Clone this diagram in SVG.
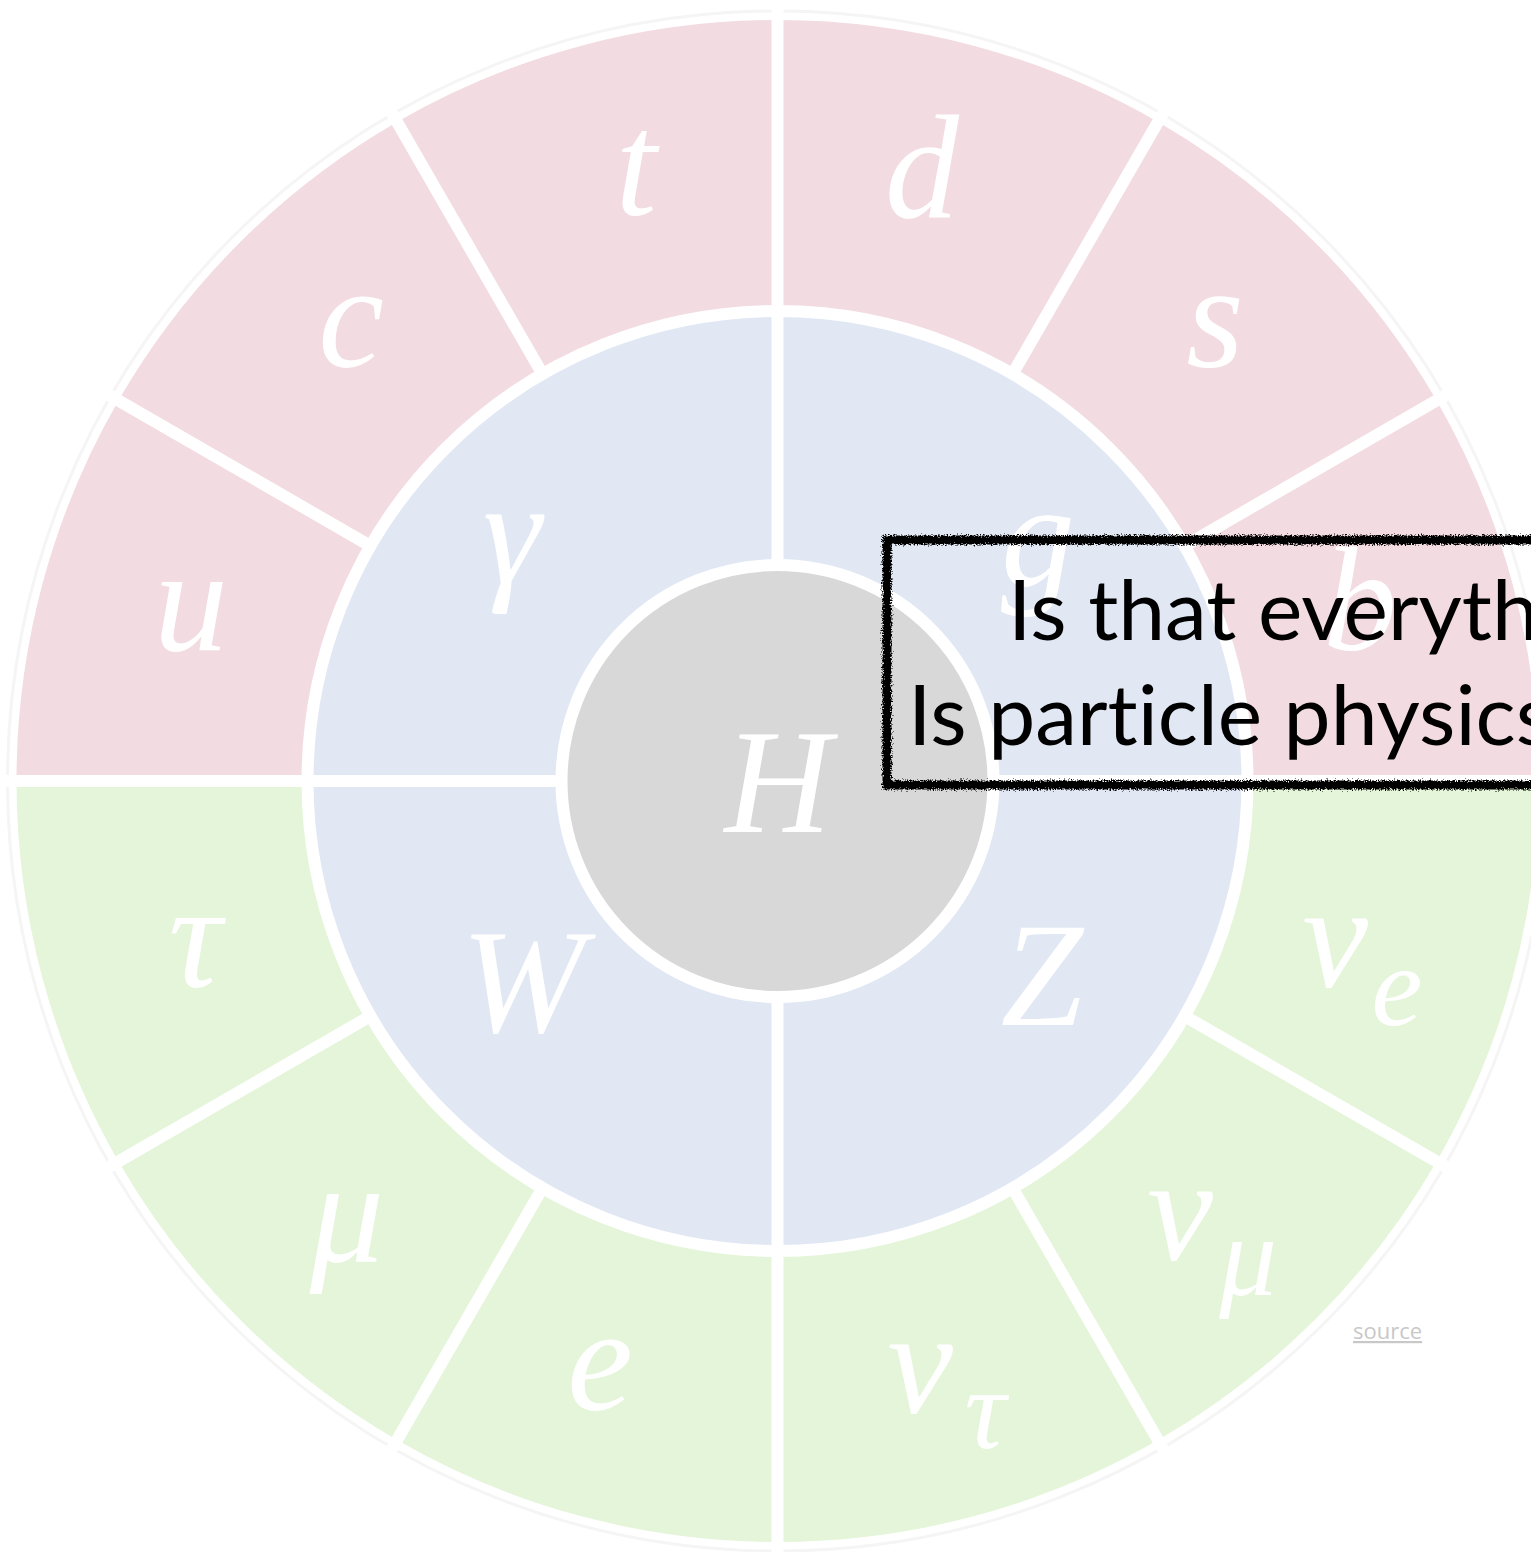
<svg xmlns="http://www.w3.org/2000/svg" width="1531" height="1552" viewBox="0 0 1531 1552">
  <defs>
    <style>
      .q { fill: #f2dbe1; }
      .b { fill: #e1e8f4; }
      .l { fill: #e4f5d9; }
      .h { fill: #d8d8d8; }
      .lbl { font-family: 'Liberation Serif', serif; font-style: italic; fill: #ffffff; font-size: 148px; text-anchor: middle; }
      .sub { font-size: 115px; }
      .sep { stroke: #ffffff; stroke-width: 12; fill: none; }
      .q-text { font-family: Lato, 'Open Sans', sans-serif; font-size: 84px; fill: #000000; font-variant-ligatures: none; }
      .src { font-family: 'Open Sans', sans-serif; font-size: 22px; fill: #c8c8c8; text-decoration: underline; }
    </style>
    <filter id="rough" x="-5%" y="-20%" width="110%" height="140%">
      <feTurbulence type="fractalNoise" baseFrequency="0.7" numOctaves="2" seed="3" result="n"/>
      <feDisplacementMap in="SourceGraphic" in2="n" scale="7" xChannelSelector="R" yChannelSelector="G"/>
    </filter>
  </defs>

  <rect width="1531" height="1552" fill="#ffffff"/>
  <circle cx="777.5" cy="781" r="770" fill="none" stroke="#f5f5f5" stroke-width="3"/>

  <!-- quarks (outer ring, upper half) -->
  <g id="node-b"><path class="q" d="M1538.5,781 A761,761 0 0 0 1436.54,400.5 L1184.53,546 A470,470 0 0 1 1247.5,781 Z"/><text class="lbl" font-family="Liberation Serif, serif" x="1360" y="650">b</text></g>
  <g id="node-s"><path class="q" d="M1436.54,400.5 A761,761 0 0 0 1158,121.96 L1012.5,373.97 A470,470 0 0 1 1184.53,546 Z"/><text class="lbl" font-family="Liberation Serif, serif" x="1215" y="367">s</text></g>
  <g id="node-d"><path class="q" d="M1158,121.96 A761,761 0 0 0 777.5,20 L777.5,311 A470,470 0 0 1 1012.5,373.97 Z"/><text class="lbl" font-family="Liberation Serif, serif" x="922" y="217">d</text></g>
  <g id="node-t"><path class="q" d="M777.5,20 A761,761 0 0 0 397,121.96 L542.5,373.97 A470,470 0 0 1 777.5,311 Z"/><text class="lbl" font-family="Liberation Serif, serif" x="636" y="215">t</text></g>
  <g id="node-c"><path class="q" d="M397,121.96 A761,761 0 0 0 118.46,400.5 L370.47,546 A470,470 0 0 1 542.5,373.97 Z"/><text class="lbl" font-family="Liberation Serif, serif" x="351" y="367">c</text></g>
  <g id="node-u"><path class="q" d="M118.46,400.5 A761,761 0 0 0 16.5,781 L307.5,781 A470,470 0 0 1 370.47,546 Z"/><text class="lbl" font-family="Liberation Serif, serif" x="191" y="650">u</text></g>

  <!-- leptons (outer ring, lower half) -->
  <g id="node-tau"><path class="l" d="M16.5,781 A761,761 0 0 0 118.46,1161.5 L370.47,1016 A470,470 0 0 1 307.5,781 Z"/><text class="lbl" font-family="Liberation Serif, serif" x="195" y="987">τ</text></g>
  <g id="node-mu"><path class="l" d="M118.46,1161.5 A761,761 0 0 0 397,1440.04 L542.5,1188.03 A470,470 0 0 1 370.47,1016 Z"/><text class="lbl" font-family="Liberation Serif, serif" x="347" y="1262">μ</text></g>
  <g id="node-e"><path class="l" d="M397,1440.04 A761,761 0 0 0 777.5,1542 L777.5,1251 A470,470 0 0 1 542.5,1188.03 Z"/><text class="lbl" font-family="Liberation Serif, serif" x="600" y="1410">e</text></g>
  <g id="node-nu-tau"><path class="l" d="M777.5,1542 A761,761 0 0 0 1158,1440.04 L1012.5,1188.03 A470,470 0 0 1 777.5,1251 Z"/><text class="lbl" font-family="Liberation Serif, serif" x="920" y="1413">ν</text><text class="lbl sub" font-family="Liberation Serif, serif" x="985" y="1448">τ</text></g>
  <g id="node-nu-mu"><path class="l" d="M1158,1440.04 A761,761 0 0 0 1436.54,1161.5 L1184.53,1016 A470,470 0 0 1 1012.5,1188.03 Z"/><text class="lbl" font-family="Liberation Serif, serif" x="1180" y="1260">ν</text><text class="lbl sub" font-family="Liberation Serif, serif" x="1248" y="1295">μ</text></g>
  <g id="node-nu-e"><path class="l" d="M1436.54,1161.5 A761,761 0 0 0 1538.5,781 L1247.5,781 A470,470 0 0 1 1184.53,1016 Z"/><text class="lbl" font-family="Liberation Serif, serif" x="1335" y="987">ν</text><text class="lbl sub" font-family="Liberation Serif, serif" x="1397" y="1025">e</text></g>

  <!-- gauge bosons (middle ring) -->
  <g id="node-g"><path class="b" d="M1247.5,781 A470,470 0 0 0 777.5,311 L777.5,565 A216,216 0 0 1 993.5,781 Z"/><text class="lbl" font-family="Liberation Serif, serif" x="1038" y="585">g</text></g>
  <g id="node-gamma"><path class="b" d="M777.5,311 A470,470 0 0 0 307.5,781 L561.5,781 A216,216 0 0 1 777.5,565 Z"/><text class="lbl" font-family="Liberation Serif, serif" x="512" y="582">γ</text></g>
  <g id="node-W"><path class="b" d="M307.5,781 A470,470 0 0 0 777.5,1251 L777.5,997 A216,216 0 0 1 561.5,781 Z"/><text class="lbl" font-family="Liberation Serif, serif" x="523" y="1032">W</text></g>
  <g id="node-Z"><path class="b" d="M777.5,1251 A470,470 0 0 0 1247.5,781 L993.5,781 A216,216 0 0 1 777.5,997 Z"/><text class="lbl" font-family="Liberation Serif, serif" x="1042" y="1025">Z</text></g>

  <!-- Higgs -->
  <g id="node-H"><circle class="h" cx="777.5" cy="781" r="216"/><text class="lbl" font-family="Liberation Serif, serif" x="778" y="832">H</text></g>

  <!-- separators -->
  <g id="connectors">
    <circle class="sep" cx="777.5" cy="781" r="216"/>
    <circle class="sep" cx="777.5" cy="781" r="470"/>
    <path class="sep" d="M777.5,311 L777.5,8 M777.5,1251 L777.5,1554 M307.5,781 L4,781 M1247.5,781 L1540,781
      M1184.53,546 L1447,394.5 M1012.5,373.97 L1164,111.6 M542.5,373.97 L391,111.6 M370.47,546 L108,394.5
      M370.47,1016 L108,1167.5 M542.5,1188.03 L391,1450.4 M1012.5,1188.03 L1164,1450.4 M1184.53,1016 L1447,1167.5"/>
    <path class="sep" d="M777.5,565 L777.5,311 M777.5,997 L777.5,1251 M561.5,781 L307.5,781 M993.5,781 L1247.5,781"/>
  </g>

  <!-- question box -->
  <g id="node-question">
    <rect x="887" y="540" width="700" height="245" fill="none" stroke="#000000" stroke-width="9" filter="url(#rough)"/>
    <text class="q-text" x="1008" y="640">Is that everyth</text>
    <text class="q-text" x="908" y="745">Is particle physics</text>
  </g>

  <g id="node-source"><text class="src" x="1353" y="1339">source</text></g>
</svg>
